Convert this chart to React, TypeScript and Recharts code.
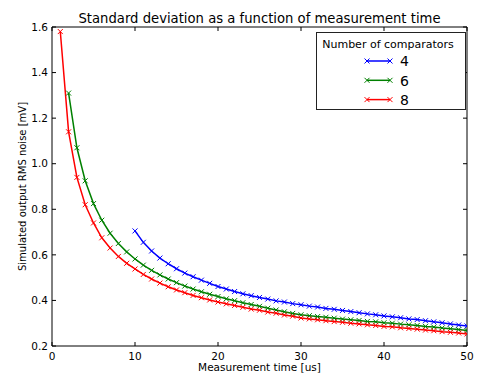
import React from 'react';
import { LineChart, Line, XAxis, YAxis, Legend } from 'recharts';

const FONT = '"DejaVu Sans", Verdana, sans-serif';

const timeSteps = [
  1, 2, 3, 4, 5, 6, 7, 8, 9, 10, 11, 12, 13, 14, 15, 16, 17, 18, 19, 20, 21, 22, 23, 24, 25,
  26, 27, 28, 29, 30, 31, 32, 33, 34, 35, 36, 37, 38, 39, 40, 41, 42, 43, 44, 45, 46, 47, 48, 49, 50,
];

// 8 comparators, from t = 1 us
const start8 = 1;
const noise8 = [
  1.58, 1.14, 0.94, 0.82, 0.74, 0.675, 0.63, 0.593, 0.563, 0.538,
  0.514, 0.494, 0.476, 0.46, 0.446, 0.434, 0.422, 0.412, 0.402, 0.393,
  0.385, 0.378, 0.37, 0.362, 0.357, 0.349, 0.344, 0.336, 0.331, 0.323,
  0.319, 0.315, 0.311, 0.307, 0.304, 0.3, 0.297, 0.293, 0.29, 0.286,
  0.284, 0.28, 0.277, 0.274, 0.27, 0.267, 0.263, 0.26, 0.257, 0.253,
];

// 6 comparators, from t = 2 us
const start6 = 2;
const noise6 = [
  1.31, 1.07, 0.925, 0.825, 0.752, 0.695, 0.65, 0.613, 0.582,
  0.555, 0.532, 0.512, 0.494, 0.478, 0.463, 0.45, 0.438, 0.427, 0.417,
  0.407, 0.399, 0.39, 0.382, 0.374, 0.366, 0.358, 0.35, 0.343, 0.337,
  0.333, 0.329, 0.326, 0.322, 0.318, 0.315, 0.312, 0.308, 0.306, 0.302,
  0.3, 0.296, 0.293, 0.29, 0.286, 0.283, 0.279, 0.276, 0.272, 0.268,
];

// 4 comparators, from t = 10 us
const start4 = 10;
const noise4 = [
  0.705, 0.655, 0.617, 0.586, 0.561, 0.539, 0.52, 0.504, 0.489, 0.475,
  0.461, 0.45, 0.439, 0.429, 0.421, 0.413, 0.406, 0.398, 0.393, 0.386,
  0.381, 0.375, 0.371, 0.365, 0.361, 0.356, 0.351, 0.346, 0.341, 0.337,
  0.332, 0.328, 0.324, 0.319, 0.316, 0.311, 0.306, 0.302, 0.297, 0.292,
  0.288,
];

const xTicks = [0, 10, 20, 30, 40, 50];
const yTicks = [0.2, 0.4, 0.6, 0.8, 1.0, 1.2, 1.4, 1.6];

const seriesKeys = ['c4', 'c6', 'c8'];
const seriesNames = ['4', '6', '8'];
const seriesColors = ['#0000ff', '#008000', '#ff0000'];

const pick = (arr: number[], start: number, t: number) => {
  const i = t - start;
  return i >= 0 && i < arr.length ? arr[i] : null;
};

const data = timeSteps.map((t) => ({
  t,
  c4: pick(noise4, start4, t),
  c6: pick(noise6, start6, t),
  c8: pick(noise8, start8, t),
}));

const XMark = (props: any) => {
  const { cx, cy, stroke, value } = props;
  if (cx == null || cy == null || value == null || Number.isNaN(cy)) return <g />;
  const s = 2.5;
  return (
    <path
      d={`M${cx - s},${cy - s}L${cx + s},${cy + s}M${cx - s},${cy + s}L${cx + s},${cy - s}`}
      stroke={stroke}
      strokeWidth={1}
      fill="none"
    />
  );
};

const renderDot = (p: any) => {
  const { key, ...rest } = p;
  return <XMark key={key ?? `d${rest.index}`} {...rest} />;
};

const XTick = (props: any) => {
  const { x, y, payload } = props;
  return (
    <g>
      <line x1={x} x2={x} y1={y - 6} y2={y - 10} stroke="#000" strokeWidth={1} />
      <text x={x} y={y + 7.5} textAnchor="middle" fontSize={10.5} fontFamily={FONT} fill="#000">
        {payload.value}
      </text>
    </g>
  );
};

const YTick = (props: any) => {
  const { x, y, payload } = props;
  return (
    <g>
      <line x1={x + 4} x2={x + 8} y1={y} y2={y} stroke="#000" strokeWidth={1} />
      <text x={x} y={y + 3.7} textAnchor="end" fontSize={10.5} fontFamily={FONT} fill="#000">
        {Number(payload.value).toFixed(1)}
      </text>
    </g>
  );
};

// inward tick marks for the top and right frame edges
const TopTick = (props: any) => {
  const { x, y } = props;
  return <line x1={x} x2={x} y1={y} y2={y + 4} stroke="#000" strokeWidth={1} />;
};

const RightTick = (props: any) => {
  const { x, y } = props;
  return <line x1={x} x2={x - 4} y1={y} y2={y} stroke="#000" strokeWidth={1} />;
};

const LegendBox = (props: any) => {
  const payload = ((props.payload || []) as any[]).filter((e) => seriesNames.includes(String(e.value)));
  const rowY = [29, 48.3, 67.6];
  return (
    <svg width={150} height={78} style={{ display: 'block' }}>
      <rect x={0.5} y={0.5} width={149} height={77} fill="#fff" stroke="#222" strokeWidth={1} />
      <text x={72} y={15.5} textAnchor="middle" fontSize={11} fontFamily={FONT} fill="#000">
        Number of comparators
      </text>
      {payload.map((entry: any, i: number) => {
        const cy = rowY[i];
        const color = entry.color;
        const s = 2.5;
        return (
          <g key={i}>
            <line x1={51} x2={74} y1={cy} y2={cy} stroke={color} strokeWidth={1.5} />
            {[51, 74].map((cx) => (
              <path
                key={cx}
                d={`M${cx - s},${cy - s}L${cx + s},${cy + s}M${cx - s},${cy + s}L${cx + s},${cy - s}`}
                stroke={color}
                strokeWidth={1}
              />
            ))}
            <text x={84} y={cy + 5.2} fontSize={14} fontFamily={FONT} fill="#000">
              {entry.value}
            </text>
          </g>
        );
      })}
    </svg>
  );
};

export default function App() {
  return (
    <div style={{ position: 'absolute', left: 0, top: 0, width: 488, height: 387, background: '#fff' }}>
      <LineChart
        width={488}
        height={387}
        data={data}
        margin={{ top: 26, right: 20, bottom: 0, left: 0 }}
        style={{ fontFamily: FONT }}
      >
        <XAxis
          dataKey="t"
          type="number"
          domain={[0, 50]}
          ticks={xTicks}
          allowDataOverflow
          height={41}
          tickSize={6}
          tickMargin={0}
          tickLine={false}
          axisLine={{ stroke: '#000', strokeWidth: 1 }}
          tick={<XTick />}
          label={{
            value: 'Measurement time [us]',
            position: 'insideBottom',
            offset: 16,
            fontSize: 10.5,
            fontFamily: FONT,
            fill: '#000',
          }}
        />
        <XAxis
          xAxisId="top"
          dataKey="t"
          type="number"
          orientation="top"
          domain={[0, 50]}
          ticks={xTicks}
          allowDataOverflow
          height={1}
          tickSize={0}
          tickMargin={0}
          tickLine={false}
          tick={<TopTick />}
          axisLine={{ stroke: '#000', strokeWidth: 1 }}
          label={{
            value: 'Standard deviation as a function of measurement time',
            position: 'top',
            offset: 3,
            fontSize: 13.2,
            fontFamily: FONT,
            fill: '#000',
          }}
        />
        <YAxis
          type="number"
          domain={[0.2, 1.6]}
          ticks={yTicks}
          allowDataOverflow
          width={52}
          tickSize={4}
          tickMargin={0}
          tickLine={false}
          axisLine={{ stroke: '#000', strokeWidth: 1 }}
          tick={<YTick />}
          label={{
            value: 'Simulated output RMS noise [mV]',
            angle: -90,
            position: 'insideLeft',
            offset: 22,
            fontSize: 10,
            fontFamily: FONT,
            fill: '#000',
            style: { textAnchor: 'middle' },
          }}
        />
        <YAxis
          yAxisId="right"
          type="number"
          orientation="right"
          domain={[0.2, 1.6]}
          ticks={yTicks}
          allowDataOverflow
          width={1}
          tickSize={0}
          tickMargin={0}
          tickLine={false}
          tick={<RightTick />}
          axisLine={{ stroke: '#000', strokeWidth: 1 }}
        />
        <Line
          xAxisId="top"
          yAxisId="right"
          dataKey="c8"
          name="frame"
          legendType="none"
          stroke="none"
          dot={false}
          activeDot={false}
          isAnimationActive={false}
        />
        {seriesKeys.map((k, i) => (
          <Line
            key={k}
            dataKey={k}
            name={seriesNames[i]}
            stroke={seriesColors[i]}
            strokeWidth={1.5}
            dot={renderDot}
            activeDot={false}
            isAnimationActive={false}
            connectNulls={false}
          />
        ))}
        <Legend
          layout="horizontal"
          verticalAlign="middle"
          align="center"
          content={<LegendBox />}
          wrapperStyle={{ position: 'absolute', left: 316, top: 32, width: 150, height: 78, margin: 0, padding: 0 }}
        />
      </LineChart>
    </div>
  );
}
